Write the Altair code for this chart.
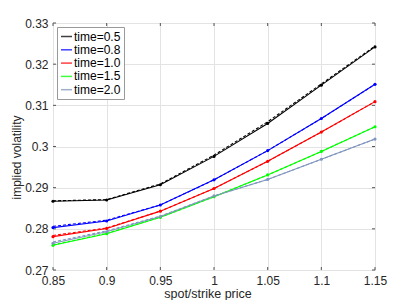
import altair as alt
import pandas as pd

# ---- data ----
x_vals = [0.85, 0.90, 0.95, 1.00, 1.05, 1.10, 1.15]
series_labels = ["time=0.5", "time=0.8", "time=1.0", "time=1.5", "time=2.0"]
series_colors = ["#000000", "#0000ff", "#ff0000", "#00ff00", "#8096be"]

iv_t05 = [0.2867, 0.2870, 0.2907, 0.2976, 0.3056, 0.3149, 0.3242]
iv_t08 = [0.2803, 0.2819, 0.2858, 0.2919, 0.2990, 0.3068, 0.3151]
iv_t10 = [0.2781, 0.2801, 0.2843, 0.2898, 0.2964, 0.3035, 0.3109]
iv_t15 = [0.2760, 0.2788, 0.2828, 0.2878, 0.2931, 0.2988, 0.3048]
iv_t20 = [0.2765, 0.2793, 0.2830, 0.2880, 0.2920, 0.2969, 0.3018]

fit_t05 = [0.2868, 0.2871, 0.2909, 0.2979, 0.3060, 0.3152, 0.3244]
fit_t08 = [0.2806, 0.2821, 0.2858, 0.2919, 0.2990, 0.3068, 0.3151]
fit_t10 = [0.2784, 0.2802, 0.2843, 0.2898, 0.2964, 0.3035, 0.3109]
fit_t15 = [0.2761, 0.2789, 0.2828, 0.2878, 0.2931, 0.2988, 0.3048]
fit_t20 = [0.2768, 0.2795, 0.2831, 0.2880, 0.2920, 0.2969, 0.3018]

x_ticks = [0.85, 0.90, 0.95, 1.00, 1.05, 1.10, 1.15]
y_ticks = [0.27, 0.28, 0.29, 0.30, 0.31, 0.32, 0.33]

solid = [iv_t05, iv_t08, iv_t10, iv_t15, iv_t20]
dashed = [fit_t05, fit_t08, fit_t10, fit_t15, fit_t20]

rows = []
for lab, s, d in zip(series_labels, solid, dashed):
    for x, v, w in zip(x_vals, s, d):
        rows.append({"x": x, "series": lab, "iv": v, "fit": w})
df = pd.DataFrame(rows)
xt = pd.DataFrame({"t": x_ticks})
yt = pd.DataFrame({"t": y_ticks})

W, H = 322, 247
FONT = "Liberation Sans"
TXT = "#262626"

xs = alt.Scale(domain=[0.85, 1.15], nice=False, zero=False)
ys = alt.Scale(domain=[0.27, 0.33], nice=False, zero=False)

xaxis = alt.Axis(title="spot/strike price", values=x_ticks, format="~g",
                 grid=True, gridColor="#e3e3e3", domain=False, ticks=False,
                 labelFlush=False, labelOverlap=False,
                 labelFontSize=12, labelFont=FONT, labelColor=TXT, labelPadding=5,
                 titleFontSize=12.5, titleFont=FONT, titleColor=TXT, titleFontWeight="normal",
                 titleX=154.5, titleY=23, titleBaseline="middle", titleAlign="center")
yaxis = alt.Axis(title="implied volatility", values=y_ticks, format="~g",
                 grid=True, gridColor="#e3e3e3", domain=False, ticks=False,
                 labelFlush=False, labelOverlap=False,
                 labelFontSize=12, labelFont=FONT, labelColor=TXT, labelPadding=5,
                 titleFontSize=12, titleFont=FONT, titleColor=TXT, titleFontWeight="normal",
                 titleX=-36.5, titleY=134, titleBaseline="middle", titleAlign="center")

cscale = alt.Scale(domain=series_labels, range=series_colors)
legend = alt.Legend(title=None, orient="none", legendX=4, legendY=4,
                    symbolType="stroke", symbolSize=121, symbolStrokeWidth=1.5,
                    symbolOpacity=0.75,
                    labelFontSize=12, labelFont=FONT, labelColor="#000000", labelOffset=1,
                    padding=3, rowPadding=0.3, strokeColor="#9a9a9a", fillColor="white",
                    cornerRadius=0)

base = alt.Chart(df)
X = alt.X("x:Q", scale=xs, axis=xaxis)

dash_layer = base.mark_line(strokeDash=[3, 2], strokeWidth=1.1).encode(
    x=X, y=alt.Y("fit:Q", scale=ys, axis=yaxis),
    color=alt.Color("series:N", scale=cscale, legend=legend), detail="series:N")
line_layer = base.mark_line(strokeWidth=1.1).encode(
    x=X, y=alt.Y("iv:Q", scale=ys, axis=yaxis),
    color=alt.Color("series:N", scale=cscale, legend=legend), detail="series:N")
pt_layer = base.mark_point(filled=True, size=10, opacity=1).encode(
    x=X, y=alt.Y("iv:Q", scale=ys, axis=yaxis),
    color=alt.Color("series:N", scale=cscale, legend=legend))

tk = "#555555"
xb = alt.Chart(xt).mark_rule(color=tk, strokeWidth=1).encode(
    x=alt.X("t:Q", scale=xs, axis=xaxis), y=alt.value(H), y2=alt.value(H - 3))
xtop = alt.Chart(xt).mark_rule(color=tk, strokeWidth=1).encode(
    x=alt.X("t:Q", scale=xs, axis=xaxis), y=alt.value(0), y2=alt.value(3))
yl = alt.Chart(yt).mark_rule(color=tk, strokeWidth=1).encode(
    y=alt.Y("t:Q", scale=ys, axis=yaxis), x=alt.value(0), x2=alt.value(3))
yr = alt.Chart(yt).mark_rule(color=tk, strokeWidth=1).encode(
    y=alt.Y("t:Q", scale=ys, axis=yaxis), x=alt.value(W), x2=alt.value(W - 3))

chart = alt.layer(xb, xtop, yl, yr, dash_layer, line_layer, pt_layer).properties(
    width=W, height=H, autosize="none",
    padding={"left": 45, "top": 15, "right": 30, "bottom": 30},
).configure_view(stroke="#555555", strokeWidth=1).configure(background="white")

chart.save("out.html", embed_options={"renderer": "svg", "actions": False})
